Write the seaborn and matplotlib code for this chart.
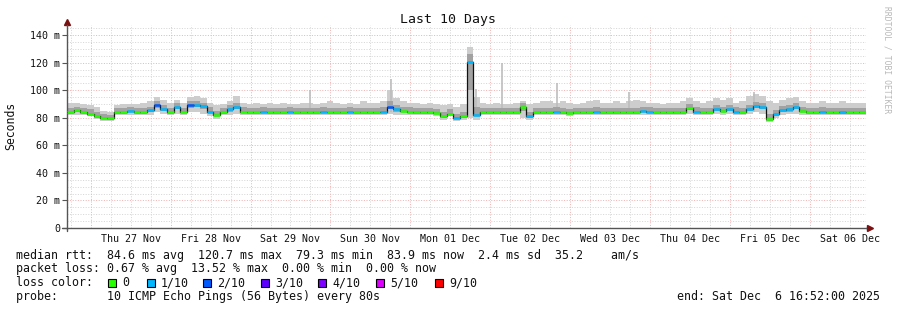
import matplotlib
matplotlib.use("Agg")
import matplotlib.pyplot as plt
from matplotlib.patches import Rectangle
import numpy as np
import pandas as pd
import seaborn as sns

# ---------------- data (2-hour bins, 10 days) ----------------
bin_hours = 2
median_ms = [
    84, 85.5, 84, 83, 81, 80, 79.5, 84, 84, 85, 84, 84,
    85.5, 89, 86, 84, 88, 84.5, 89, 89.5, 88.5, 84.5, 82, 84,
    86, 88, 84.5, 84, 84, 84.5, 84, 84, 84, 84.5, 84, 84,
    84, 84, 84.5, 84, 84, 84, 84.5, 84, 84, 84, 84, 84.5,
    88, 86, 85, 84.5, 84, 84, 84, 83.5, 81.5, 83, 80, 81,
    120.7, 82, 84, 84, 84, 84, 84, 84, 87.5, 81, 84, 84,
    84, 84.5, 84, 83.5, 84, 84, 84, 84.5, 84, 84, 84, 84,
    84, 84, 85, 84.5, 84, 84, 84, 84, 84, 87, 84.5, 84,
    84, 86.5, 85, 86, 84.5, 84, 86, 88.5, 88, 79.3, 82.5, 85.5,
    86, 88, 85, 84, 84, 84.5, 84, 84, 84, 84, 84, 83.9,
]
loss_tenths = [
    0, 0, 0, 0, 0, 0, 0, 0, 0, 1, 0, 0,
    1, 2, 1, 0, 1, 0, 2, 1, 1, 1, 0, 0,
    1, 1, 0, 0, 0, 1, 0, 0, 0, 1, 0, 0,
    0, 0, 1, 0, 0, 0, 1, 0, 0, 0, 0, 1,
    2, 1, 0, 0, 0, 0, 0, 0, 0, 0, 1, 0,
    1, 1, 0, 0, 0, 0, 0, 0, 0, 1, 0, 0,
    0, 1, 0, 0, 0, 0, 0, 1, 0, 0, 0, 0,
    0, 0, 1, 1, 0, 0, 0, 0, 0, 0, 1, 0,
    0, 1, 0, 1, 1, 0, 1, 1, 1, 0, 1, 1,
    1, 1, 0, 0, 0, 1, 0, 0, 1, 0, 0, 0,
]
smoke_max = [
    91, 91, 90, 89, 88, 85, 84, 89, 90, 90, 90, 91,
    92, 95, 93, 91, 93, 91, 95, 96, 94, 91, 89, 90,
    92, 96, 91, 90, 91, 90, 91, 90, 91, 90, 90, 91,
    91, 90, 91, 92, 91, 90, 91, 90, 92, 91, 91, 92,
    100, 94, 92, 91, 91, 90, 91, 90, 89, 90, 88, 90,
    131, 95, 91, 90, 91, 90, 90, 91, 92, 90, 91, 92,
    92, 91, 92, 91, 90, 91, 92, 93, 91, 91, 92, 91,
    92, 93, 92, 91, 91, 90, 91, 91, 92, 94, 92, 91,
    92, 94, 93, 94, 91, 92, 96, 97, 96, 92, 91, 93,
    94, 95, 92, 91, 91, 92, 91, 91, 92, 91, 91, 91,
]
smoke_min = [
    82, 82, 82, 81, 79, 78, 77.5, 82, 82, 82, 82, 82,
    82, 84, 83, 82, 83, 82, 84, 84, 83, 81, 79, 82,
    82, 83, 82, 82, 82, 82, 82, 82, 82, 82, 82, 82,
    82, 82, 82, 82, 82, 82, 82, 82, 82, 82, 82, 82,
    83, 82, 82, 82, 82, 82, 82, 81.5, 78.5, 81, 77.5, 78.5,
    80, 78.5, 82, 82, 82, 82, 82, 82, 80, 78.5, 82, 82,
    82, 82, 82, 81.5, 82, 82, 82, 82, 82, 82, 82, 82,
    82, 82, 82, 82, 82, 82, 82, 82, 82, 83, 82, 82,
    82, 83, 82, 83, 82, 82, 83, 84, 83, 77, 80, 82,
    83, 83, 82, 82, 82, 82, 82, 82, 82, 82, 82, 82,
]
smoke_q_hi = [
    87, 88, 87, 86, 84, 83, 82, 87, 87, 88, 87, 87,
    88, 92, 89, 87, 91, 87, 92, 92.5, 91, 87.5, 85, 87,
    89, 91, 87.5, 87, 87, 87.5, 87, 87, 87, 87.5, 87, 87,
    87, 87, 87.5, 87, 87, 87, 87.5, 87, 87, 87, 87, 87.5,
    92, 89, 88, 87.5, 87, 87, 87, 86.5, 84.5, 86, 83, 84,
    126, 88, 87, 87, 87, 87, 87, 87, 90.5, 84, 87, 87,
    87, 87.5, 87, 86.5, 87, 87, 87, 87.5, 87, 87, 87, 87,
    87, 87, 88, 87.5, 87, 87, 87, 87, 87, 90, 87.5, 87,
    87, 89.5, 88, 89, 87.5, 87, 89, 91.5, 91, 82.5, 85.5, 88.5,
    89, 91, 88, 87, 87, 87.5, 87, 87, 87, 87, 87, 87,
]
smoke_q_lo = [
    83, 84, 83, 82, 80, 79, 78.5, 83, 83, 84, 83, 83,
    84, 87, 85, 83, 86, 83.5, 87, 87.5, 86.5, 83.5, 81, 83,
    84.5, 86, 83.5, 83, 83, 83.5, 83, 83, 83, 83.5, 83, 83,
    83, 83, 83.5, 83, 83, 83, 83.5, 83, 83, 83, 83, 83.5,
    86, 84.5, 84, 83.5, 83, 83, 83, 82.5, 80, 82, 79, 80,
    100, 81, 83, 83, 83, 83, 83, 83, 85, 79.5, 83, 83,
    83, 83.5, 83, 82.5, 83, 83, 83, 83.5, 83, 83, 83, 83,
    83, 83, 84, 83.5, 83, 83, 83, 83, 83, 85.5, 83.5, 83,
    83, 85, 84, 85, 83.5, 83, 85, 87, 86.5, 78, 81, 84,
    84.5, 86.5, 84, 83, 83, 83.5, 83, 83, 83, 83, 83, 83,
]
spike_hours = [72.9, 97.2, 123.0, 130.8, 147.3, 168.9, 206.4]
spike_tops = [100, 108, 101, 120, 105, 99, 99]

y_ticks = [0, 20, 40, 60, 80, 100, 120, 140]
y_tick_labels = ["0", "20 m", "40 m", "60 m", "80 m", "100 m", "120 m", "140 m"]
day_labels = ["Thu 27 Nov", "Fri 28 Nov", "Sat 29 Nov", "Sun 30 Nov", "Mon 01 Dec",
              "Tue 02 Dec", "Wed 03 Dec", "Thu 04 Dec", "Fri 05 Dec", "Sat 06 Dec"]
loss_levels = ["0", "1/10", "2/10", "3/10", "4/10", "5/10", "9/10"]
loss_colors = ["#26ff00", "#00b8ff", "#0059ff", "#5e00ff", "#7e00ff", "#dd00ff", "#ff0000"]

title = "Last 10 Days"
stat_lines = [
    "median rtt:  84.6 ms avg  120.7 ms max  79.3 ms min  83.9 ms now  2.4 ms sd  35.2    am/s",
    "packet loss: 0.67 % avg  13.52 % max  0.00 % min  0.00 % now",
    "loss color:",
    "probe:       10 ICMP Echo Pings (56 Bytes) every 80s",
]
end_text = "end: Sat Dec  6 16:52:00 2025"

# ---------------- build frames ----------------
n = len(median_ms)
df = pd.DataFrame({
    "h": np.arange(n) * bin_hours,
    "median": median_ms,
    "loss": loss_tenths,
    "smin": smoke_min, "smax": smoke_max,
    "qlo": smoke_q_lo, "qhi": smoke_q_hi,
})
last = df.iloc[[-1]].copy()
last["h"] = n * bin_hours
dfe = pd.concat([df, last], ignore_index=True)

sns.set_theme(style="white")
plt.rcParams["font.family"] = ["DejaVu Sans Mono"]

W, H = 897, 310
fig = plt.figure(figsize=(W / 100, H / 100), dpi=100)
fig.patch.set_facecolor("white")
ax = fig.add_axes([67 / W, (H - 228) / H, 799 / W, 203 / H])
total_h = n * bin_hours
ymax = 147.3
ax.set_xlim(0, total_h)
ax.set_ylim(0, ymax)
ax.set_facecolor("white")

# grid
first_midnight = 7.1333
dot = (0, (1, 1.6))
for v in np.arange(5, ymax, 5):
    if v % 20 == 0:
        ax.axhline(v, color="#eeb4b4", ls=dot, lw=0.72, zorder=0.6)
    else:
        ax.axhline(v, color="#d6d6d6", ls=dot, lw=0.72, zorder=0.5)
for k in range(-1, 45):
    xv = first_midnight - 6 + 6 * k
    if 0 < xv < total_h:
        if (k - 1) % 4 == 0:
            ax.axvline(xv, color="#eeb4b4", ls=dot, lw=0.72, zorder=0.6)
        else:
            ax.axvline(xv, color="#d6d6d6", ls=dot, lw=0.72, zorder=0.5)

# smoke
ax.fill_between(dfe["h"], dfe["smin"], dfe["smax"], step="post", color="#cdcdcd", lw=0, zorder=1)
ax.vlines(spike_hours, 84, spike_tops, color="#bdbdbd", lw=1.2, zorder=1.1)
ax.fill_between(dfe["h"], dfe["qlo"], dfe["qhi"], step="post", color="#a2a2a2", lw=0, zorder=1.2)

# median
sns.lineplot(data=dfe, x="h", y="median", drawstyle="steps-post", color="#111111",
             lw=0.9, ax=ax, estimator=None, sort=False, legend=False, zorder=3)
ax.hlines(df["median"], df["h"], df["h"] + bin_hours,
          colors=[loss_colors[l] for l in df["loss"]], lw=1.8, zorder=4)

# axes styling
ax.set_xlabel("")
ax.set_ylabel("")
for s in ["top", "right"]:
    ax.spines[s].set_visible(False)
for s in ["left", "bottom"]:
    ax.spines[s].set_color("#555555")
    ax.spines[s].set_linewidth(1.0)
ax.set_yticks(y_ticks)
ax.set_yticklabels(y_tick_labels)
ax.tick_params(axis="y", left=True, length=3.6, width=0.8, color="#555555",
               pad=1.5, labelsize=7.2, labelcolor="#111111")
noon = [first_midnight + 12 + 24 * k for k in range(len(day_labels))]
ax.set_xticks(noon)
ax.set_xticklabels(day_labels)
ax.tick_params(axis="x", bottom=False, length=0, pad=4.0, labelsize=7.2, labelcolor="#111111")

# axis extensions and arrows
ax.plot([-5 / 799, 0], [0, 0], transform=ax.transAxes, color="#555555", lw=1.0, clip_on=False)
ax.plot([1, 1.004], [0, 0], transform=ax.transAxes, color="#555555", lw=1.0, clip_on=False)
ax.plot([0, 0], [-3 / 203, 0], transform=ax.transAxes, color="#555555", lw=1.0, clip_on=False)
ax.plot([0, 0], [1, 1.012], transform=ax.transAxes, color="#555555", lw=1.0, clip_on=False)
ax.plot([0], [1.015], transform=ax.transAxes, marker="^", ms=4, color="#7a1010", clip_on=False)
ax.plot([1.0045], [0], transform=ax.transAxes, marker=">", ms=4, color="#7a1010", clip_on=False)

# texts
def fx(px):
    return px / W

def fy(py):
    return 1 - py / H

fig.text(fx(448), fy(19), title, ha="center", va="center", fontsize=9.5, color="#111111")
fig.text(fx(11), fy(126), "Seconds", rotation=90, ha="center", va="center", fontsize=8.3, color="#111111")
fig.text(fx(887), fy(60), "RRDTOOL / TOBI OETIKER", rotation=270, ha="center", va="center",
         fontsize=5.8, color="#b8b8b8")

line_y = [255, 268.5, 282.5, 296.5]
for txt, yy in zip(stat_lines, line_y):
    fig.text(fx(16), fy(yy), txt, ha="left", va="center", fontsize=8.4, color="#111111")
fig.text(fx(880), fy(296.5), end_text, ha="right", va="center", fontsize=8.4, color="#111111")

sq_x = [108, 147, 203, 261, 318, 376, 435]
for sx, lab, col in zip(sq_x, loss_levels, loss_colors):
    fig.add_artist(Rectangle((fx(sx), fy(287)), 8 / W, 8 / H, transform=fig.transFigure,
                             facecolor=col, edgecolor="#000000", lw=0.8))
    fig.text(fx(sx + 14), fy(282.5), lab, ha="left", va="center", fontsize=8.4, color="#111111")

fig.savefig("out.png", dpi=100, facecolor="white")
